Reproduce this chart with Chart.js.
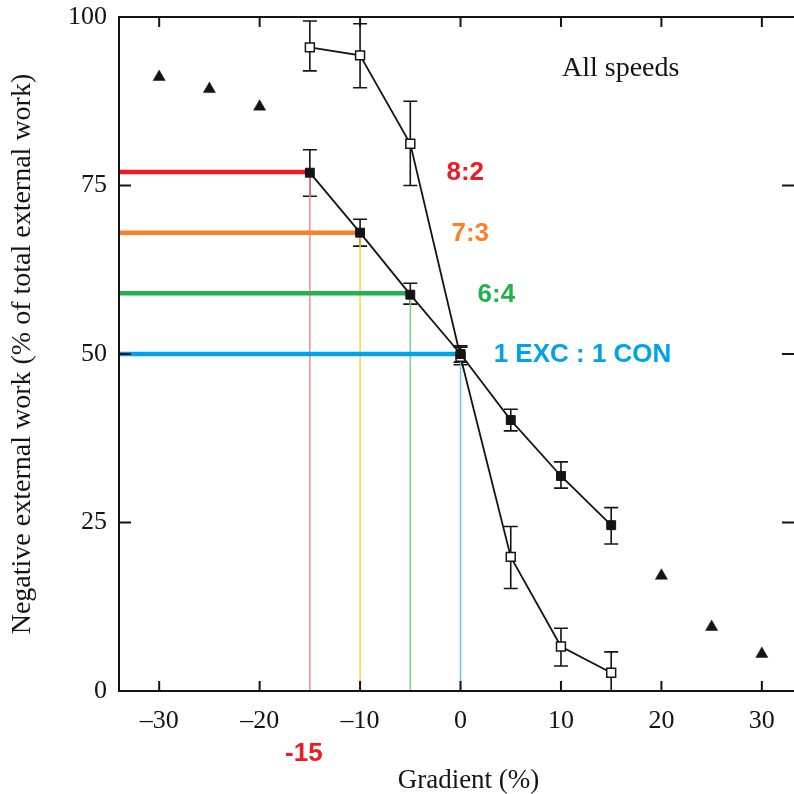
<!DOCTYPE html>
<html>
<head>
<meta charset="utf-8">
<script src="https://cdn.jsdelivr.net/npm/chart.js@4"></script>
<style>
  html, body { margin: 0; padding: 0; background: #fff; }
  #wrap { width: 794px; height: 794px; }
</style>
</head>
<body>
<div id="wrap"><canvas id="chart" width="794" height="794"></canvas></div>
<script>
// gradient (%) for the two measured series
const gradients = [-15, -10, -5, 0, 5, 10, 15];
// open squares
const openMean = [95.5, 94.3, 81.2, 49.6, 19.9, 6.6, 2.7];
const openLow = [92.0, 89.5, 75.0, 48.4, 15.2, 3.7, 0.0];
const openHigh = [99.4, 99.0, 87.5, 51.0, 24.4, 9.3, 5.8];
// filled squares
const filledMean = [76.9, 68.0, 58.8, 50.0, 40.2, 31.9, 24.6];
const filledLow = [73.4, 66.0, 57.4, 48.8, 38.6, 30.1, 21.8];
const filledHigh = [80.3, 70.0, 60.5, 51.2, 41.8, 34.0, 27.2];
// triangles
const triGradients = [-30, -25, -20, 20, 25, 30];
const triValues = [91.1, 89.3, 86.7, 17.1, 9.5, 5.5];
// ratio guide lines
const ratioLabels = ['8:2', '7:3', '6:4', '1 EXC : 1 CON'];
const ratioGradients = [-15, -10, -5, 0];
const ratioLevels = [77, 68, 59, 50];
const ratioLabelX = [-1.4, -0.9, 1.7, 3.3];
const ratioColors = ['#ed1c24', '#ff7f27', '#22b14c', '#00a2e8'];
const dropColors = ['#f28b8b', '#ffd23f', '#7fcf8f', '#62c6f0'];
const markedGradient = -15;

const xTicks = [-30, -20, -10, 0, 10, 20, 30];
const yTicks = [0, 25, 50, 75, 100];
const xMin = -34, xMax = 33.2;

const serif = '"Liberation Serif", "Times New Roman", serif';
const sans = '"Liberation Sans", Arial, sans-serif';
const ink = '#141414';

const pts = (xs, ys) => xs.map((x, i) => ({ x, y: ys[i] }));

const datasets = [
  {
    data: pts(gradients, openMean),
    showLine: true,
    borderColor: ink, borderWidth: 1.8,
    pointStyle: 'rect', pointRadius: 6.3,
    pointBackgroundColor: '#fff', pointBorderColor: ink, pointBorderWidth: 1.5,
    order: 1,
  },
  {
    data: pts(gradients, filledMean),
    showLine: true,
    borderColor: ink, borderWidth: 1.8,
    pointStyle: 'rect', pointRadius: 6.3,
    pointBackgroundColor: ink, pointBorderColor: ink, pointBorderWidth: 1,
    order: 0,
  },
  {
    data: pts(triGradients, triValues),
    showLine: false,
    pointStyle: 'triangle', pointRadius: 7,
    pointBackgroundColor: ink, pointBorderColor: ink, pointBorderWidth: 0.5,
    order: 2,
  },
];

ratioLevels.forEach((lvl, i) => {
  datasets.push({
    data: [{ x: xMin, y: lvl }, { x: ratioGradients[i], y: lvl }],
    showLine: true,
    borderColor: ratioColors[i], borderWidth: 4.5, pointRadius: 0,
    order: 10,
  });
  datasets.push({
    data: [{ x: ratioGradients[i], y: 0 }, { x: ratioGradients[i], y: lvl }],
    showLine: true,
    borderColor: dropColors[i], borderWidth: 1.5, pointRadius: 0,
    order: 11,
  });
});

const decor = {
  id: 'decor',
  beforeDatasetsDraw(chart) {
    const { ctx, scales: { x, y } } = chart;
    ctx.save();
    ctx.strokeStyle = ink;
    ctx.lineWidth = 1.6;
    const bars = (lo, hi) => gradients.forEach((g, i) => {
      const px = x.getPixelForValue(g);
      const top = y.getPixelForValue(hi[i]);
      const bot = y.getPixelForValue(lo[i]);
      ctx.beginPath();
      ctx.moveTo(px, top); ctx.lineTo(px, bot);
      ctx.moveTo(px - 7, top); ctx.lineTo(px + 7, top);
      ctx.moveTo(px - 7, bot); ctx.lineTo(px + 7, bot);
      ctx.stroke();
    });
    bars(openLow, openHigh);
    bars(filledLow, filledHigh);
    ctx.restore();
  },
  afterDraw(chart) {
    const { ctx, chartArea: a, scales: { x, y } } = chart;
    ctx.save();
    ctx.strokeStyle = ink;
    ctx.lineWidth = 2;
    ctx.beginPath();
    ctx.moveTo(a.right, a.top); ctx.lineTo(a.left, a.top);
    ctx.lineTo(a.left, a.bottom); ctx.lineTo(a.right, a.bottom);
    xTicks.forEach(v => {
      const px = x.getPixelForValue(v);
      ctx.moveTo(px, a.bottom); ctx.lineTo(px, a.bottom - 10);
      ctx.moveTo(px, a.top); ctx.lineTo(px, a.top + 10);
    });
    yTicks.forEach(v => {
      const py = y.getPixelForValue(v);
      ctx.moveTo(a.left, py); ctx.lineTo(a.left + 12, py);
      ctx.moveTo(a.right, py); ctx.lineTo(a.right - 12, py);
    });
    ctx.stroke();

    // axis title and panel label
    ctx.fillStyle = ink;
    ctx.font = '27px ' + serif;
    ctx.textAlign = 'center';
    ctx.textBaseline = 'alphabetic';
    ctx.fillText('Gradient (%)', (a.left + a.right) / 2 + 12, 788);
    ctx.font = '28px ' + serif;
    ctx.textAlign = 'left';
    ctx.fillText('All speeds', a.right - 232, a.top + 59);

    // ratio labels
    ctx.font = 'bold 26px ' + sans;
    ctx.textBaseline = 'middle';
    ratioLabels.forEach((t, i) => {
      ctx.fillStyle = ratioColors[i];
      ctx.fillText(t, x.getPixelForValue(ratioLabelX[i]), y.getPixelForValue(ratioLevels[i]) + 1);
    });
    ctx.fillStyle = ratioColors[0];
    ctx.textAlign = 'center';
    ctx.fillText(String(markedGradient), x.getPixelForValue(markedGradient) - 6, a.bottom + 63);
    ctx.restore();
  },
};

new Chart(document.getElementById('chart'), {
  type: 'scatter',
  data: { datasets },
  options: {
    responsive: false,
    animation: false,
    layout: { autoPadding: false, padding: { top: 17, right: 0, bottom: 0, left: 0 } },
    plugins: { legend: { display: false }, tooltip: { enabled: false } },
    elements: { line: { tension: 0, borderCapStyle: 'butt' } },
    scales: {
      x: {
        type: 'linear', min: xMin, max: xMax,
        grid: { display: false, drawTicks: false },
        border: { display: false },
        afterBuildTicks: s => { s.ticks = xTicks.map(value => ({ value })); },
        afterFit: s => { s.height = 103; s.paddingLeft = 0; s.paddingRight = 0; },
        ticks: {
          padding: 15, color: ink,
          font: { family: serif, size: 26 },
          callback: v => (v < 0 ? '\u2013' + Math.abs(v) : String(v)),
        },
      },
      y: {
        type: 'linear', min: 0, max: 100,
        grid: { display: false, drawTicks: false },
        border: { display: false },
        afterBuildTicks: s => { s.ticks = yTicks.map(value => ({ value })); },
        afterFit: s => { s.width = 119; s.paddingTop = 0; s.paddingBottom = 0; },
        ticks: { padding: 12, color: ink, font: { family: serif, size: 26 } },
        title: {
          display: true, color: ink,
          text: 'Negative external work (% of total external work)',
          font: { family: serif, size: 28 },
          padding: { top: 6, bottom: 0 },
        },
      },
    },
  },
  plugins: [decor],
});
</script>
</body>
</html>
